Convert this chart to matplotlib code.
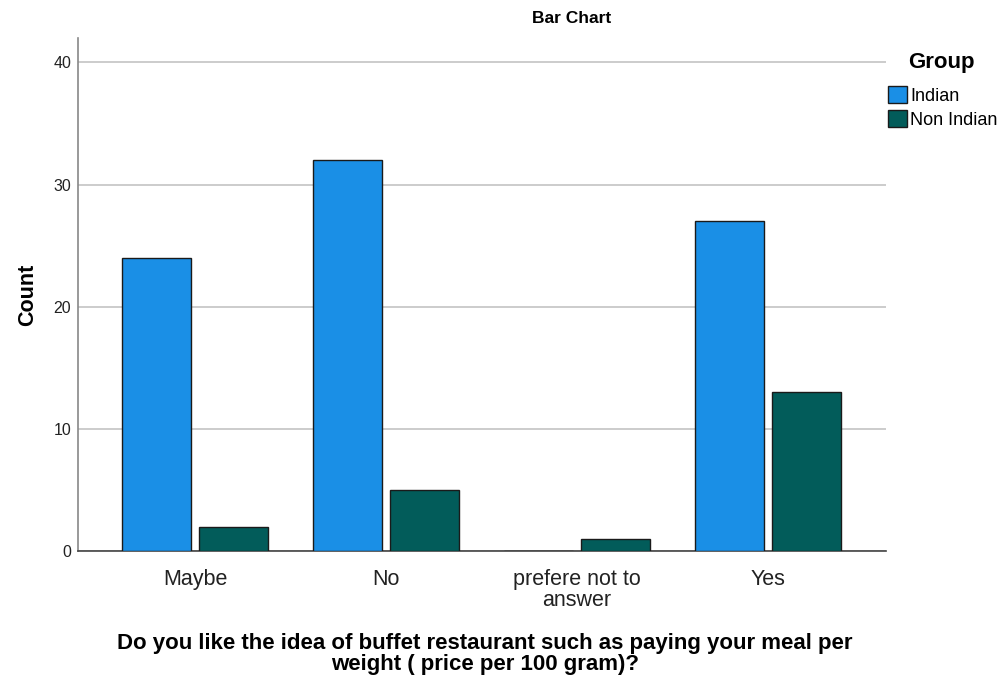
import matplotlib
matplotlib.use("Agg")
import matplotlib.pyplot as plt
import numpy as np
from matplotlib.patches import Patch

plt.rcParams['font.family'] = ['Liberation Sans', 'DejaVu Sans']

categories = ["Maybe", "No", "prefere not to\nanswer", "Yes"]
indian = [24, 32, 0, 27]
non_indian = [2, 5, 1, 13]
series_names = ["Indian", "Non Indian"]
colors = ["#1A8FE6", "#025C5A"]

fig = plt.figure(figsize=(10, 6.77), dpi=100)
ax = fig.add_axes([0.078, 0.186, 0.808, 0.758])

x = np.arange(len(categories))
w = 0.365
ax.bar(x - 0.202, indian, w, color=colors[0], edgecolor="#1a1a1a", linewidth=1.0, zorder=3)
ax.bar(x + 0.202, non_indian, w, color=colors[1], edgecolor="#1a1a1a", linewidth=1.0, zorder=3)

ax.set_xlim(-0.613, 3.618)
ax.set_ylim(0, 42)
ax.set_yticks([0, 10, 20, 30, 40])
ax.yaxis.grid(True, color="#c8c8c8", linewidth=1.3, zorder=0)
ax.set_axisbelow(True)
for s in ["top", "right"]:
    ax.spines[s].set_visible(False)
ax.spines["left"].set_color("#888888")
ax.spines["left"].set_linewidth(1.2)
ax.spines["bottom"].set_color("#444444")
ax.spines["bottom"].set_linewidth(1.2)
ax.tick_params(axis="both", length=0)
ax.tick_params(axis="y", labelsize=11.5, colors="#222222", pad=5)
ax.set_xticks(x)
ax.set_xticklabels(categories, fontsize=15.5, color="#222222", linespacing=1.0)
ax.tick_params(axis="x", pad=13)

ax.set_ylabel("Count", fontsize=15.5, fontweight="bold", labelpad=11)
fig.text(0.485, 0.003, "Do you like the idea of buffet restaurant such as paying your meal per\nweight ( price per 100 gram)?",
         ha="center", va="bottom", fontsize=16, fontweight="bold", linespacing=1.0)
fig.text(0.572, 0.972, "Bar Chart", ha="center", va="center", fontsize=12.5, fontweight="bold")

handles = [Patch(facecolor=c, edgecolor="#1a1a1a", linewidth=1.0) for c in colors]
leg = fig.legend(handles, series_names, loc="upper left", bbox_to_anchor=(0.884, 0.928),
                 frameon=False, fontsize=13, title="Group", handlelength=1.1, handleheight=1.1,
                 handletextpad=0.15, borderaxespad=0, labelspacing=0.3, borderpad=0.2)
leg.get_title().set_fontweight("bold")
leg.get_title().set_fontsize(16)
leg._legend_box.align = "left"
leg._legend_box.sep = 9
leg.get_title().set_position((21, 0))

fig.savefig("out.png", dpi=100)
